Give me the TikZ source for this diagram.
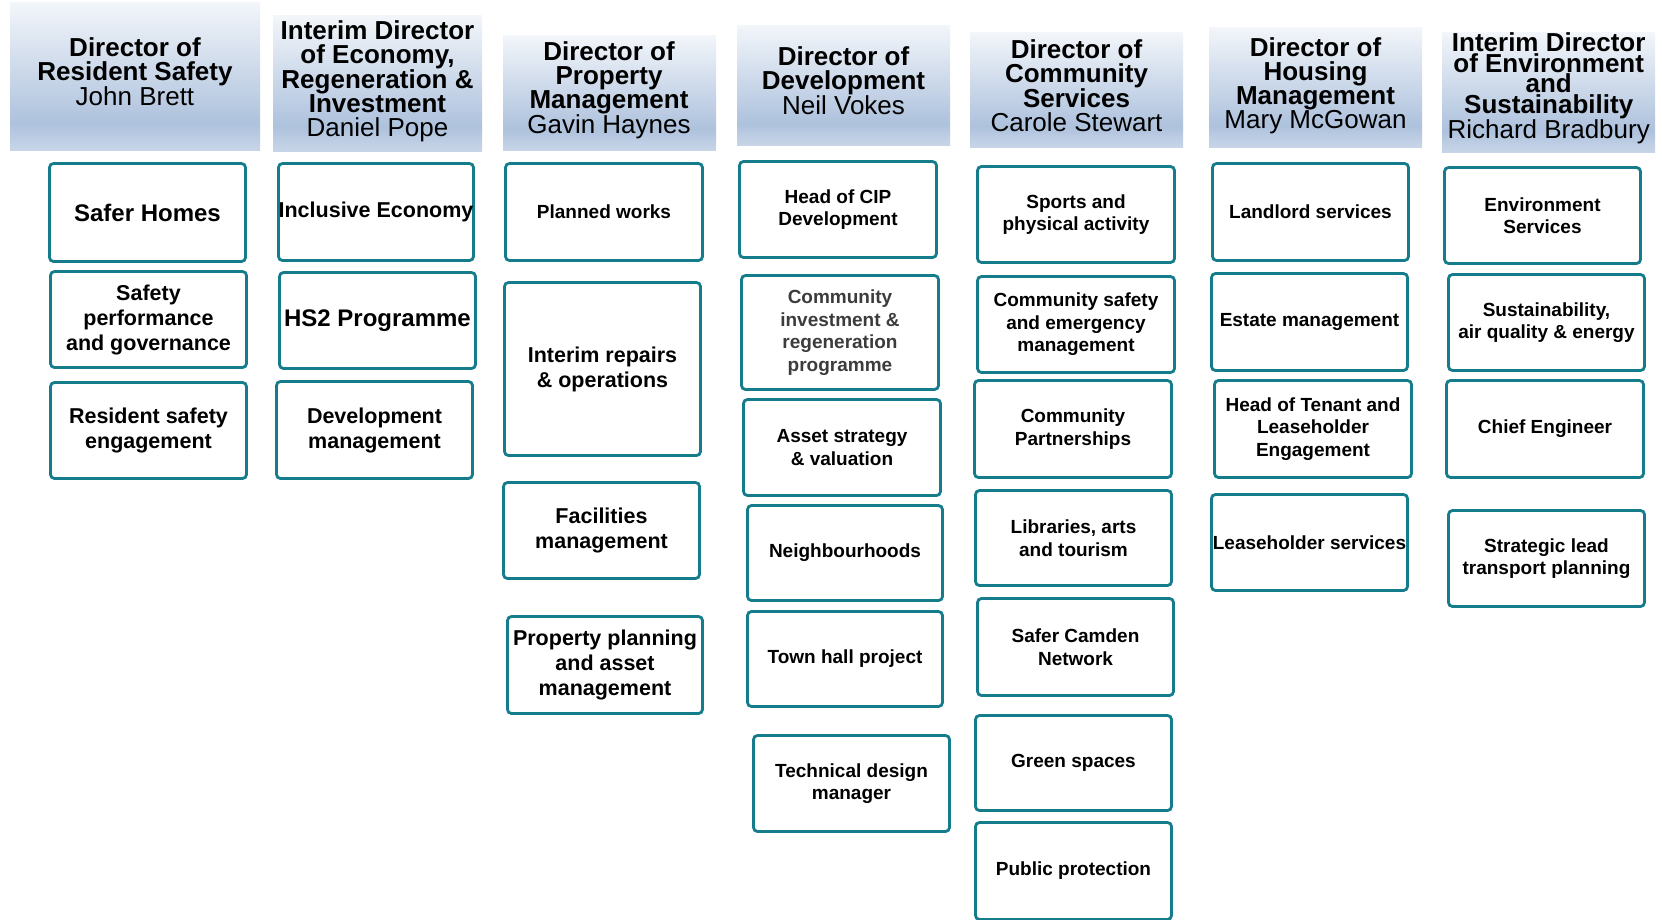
\documentclass[tikz,border=0pt]{standalone}
\usepackage{fontspec}
\setmainfont{Liberation Sans}
\definecolor{boxteal}{RGB}{20,124,138}
\definecolor{htop}{RGB}{243,246,250}
\definecolor{hmid}{RGB}{174,194,221}
\definecolor{hbot}{RGB}{200,213,232}
\definecolor{graytext}{RGB}{60,60,60}
\pgfdeclareverticalshading{hdrshade}{100bp}{color(0bp)=(hbot); color(25bp)=(hbot); color(34bp)=(hmid); color(75bp)=(htop); color(100bp)=(htop)}
\tikzset{
  ubox/.style 2 args={draw=boxteal, line width=2.8pt, rounded corners=4pt, fill=white,
    align=center, inner sep=0pt, minimum width=#1pt, minimum height=#2pt},
  fs/.style={font=\bfseries\fontsize{19}{22.5}\selectfont},
  fm/.style={font=\bfseries\fontsize{21.5}{25}\selectfont},
  fl/.style={font=\bfseries\fontsize{24}{28}\selectfont},
  hdrtext/.style={align=center, inner sep=0pt, font=\fontsize{26}{24}\selectfont},
  hdrbg/.style={shading=hdrshade}
}
\begin{document}
\begin{tikzpicture}[x=1pt,y=-1pt]
\clip (0,0) rectangle (1662,919);
\fill[white] (0,0) rectangle (1662,919);

% header backgrounds
\shade[hdrbg] (10,2) rectangle (260,150);
\shade[hdrbg] (273,15) rectangle (482,151);
\shade[hdrbg] (503,35) rectangle (716,150);
\shade[hdrbg] (737,25) rectangle (950,145);
\shade[hdrbg] (970,32) rectangle (1183,147);
\shade[hdrbg] (1209,27) rectangle (1422,147);
\shade[hdrbg] (1442,32) rectangle (1655,152);

% header texts
\node[hdrtext] (h1) at (135,71.5) {\textbf{Director of}\\\textbf{Resident Safety}\\John Brett};
\node[hdrtext] (h2) at (377.5,81.6) {\textbf{Interim Director}\\\textbf{of Economy,}\\\textbf{Regeneration \&}\\\textbf{Investment}\\Daniel Pope};
\node[hdrtext] (h3) at (609,90.4) {\textbf{Director of}\\\textbf{Property}\\\textbf{Management}\\Gavin Haynes};
\node[hdrtext] (h4) at (843.5,81) {\textbf{Director of}\\\textbf{Development}\\Neil Vokes};
\node[hdrtext] (h5) at (1076.5,86) {\textbf{Director of}\\\textbf{Community}\\\textbf{Services}\\Carole Stewart};
\node[hdrtext] (h6) at (1315.5,85.8) {\textbf{Director of}\\\textbf{Housing}\\\textbf{Management}\\Mary McGowan};
\node[hdrtext, font=\fontsize{26}{20.8}\selectfont] (h7) at (1548.7,88.3) {\textbf{Interim Director}\\\textbf{of Environment}\\\textbf{and}\\\textbf{Sustainability}\\Richard Bradbury};

% column 1
\node[ubox={196}{98}, fl] (a1) at (147.5,212.5) {Safer Homes};
\node[ubox={196}{96}, fm] (a2) at (148.5,319.5) {Safety\\performance\\and governance};
\node[ubox={196}{96}, fm] (a3) at (148.5,430.5) {Resident safety\\engagement};

% column 2
\node[ubox={195}{97}, fm] (b1) at (376,212) {Inclusive Economy};
\node[ubox={196}{96}, fl] (b2) at (377.5,320.5) {HS2 Programme};
\node[ubox={196}{97}, fm] (b3) at (374.5,430) {Development\\management};

% column 3
\node[ubox={197}{97}, fs] (c1) at (604,212) {Planned works};
\node[ubox={196}{173}, fm] (c2) at (602.5,369) {Interim repairs\\\& operations};
\node[ubox={196}{96}, fm] (c3) at (601.5,530.5) {Facilities\\management};
\node[ubox={195}{97}, fm] (c4) at (605,665) {Property planning\\and asset\\management};

% column 4
\node[ubox={197}{96}, fs] (d1) at (838,209.5) {Head of CIP\\Development};
\node[ubox={197}{114}, fs, text=graytext] (d2) at (840,332.5) {Community\\investment \&\\regeneration\\programme};
\node[ubox={197}{96}, fs] (d3) at (842,447.5) {Asset strategy\\\& valuation};
\node[ubox={195}{95}, fs] (d4) at (845,553) {Neighbourhoods};
\node[ubox={195}{95}, fs] (d5) at (845,659) {Town hall project};
\node[ubox={196}{96}, fs] (d6) at (851.5,783.5) {Technical design\\manager};

% column 5
\node[ubox={197}{96}, fs] (e1) at (1076,214.5) {Sports and\\physical activity};
\node[ubox={197}{96}, fs] (e2) at (1076,324.5) {Community safety\\and emergency\\management};
\node[ubox={197}{97}, fs] (e3) at (1073,429) {Community\\Partnerships};
\node[ubox={196}{95}, fs] (e4) at (1073.5,538) {Libraries, arts\\and tourism};
\node[ubox={196}{97}, fs] (e5) at (1075.5,647) {Safer Camden\\Network};
\node[ubox={196}{95}, fs] (e6) at (1073.5,763) {Green spaces};
\node[ubox={196}{97}, fs] (e7) at (1073.5,871) {Public protection};

% column 6
\node[ubox={196}{97}, fs] (f1) at (1310.5,212) {Landlord services};
\node[ubox={196}{97}, fs] (f2) at (1309.5,322) {Estate management};
\node[ubox={197}{97}, fs] (f3) at (1313,429) {Head of Tenant and\\Leaseholder\\Engagement};
\node[ubox={196}{96}, fs] (f4) at (1309.5,542.5) {Leaseholder services};

% column 7
\node[ubox={196}{96}, fs] (g1) at (1542.5,215.5) {Environment\\Services};
\node[ubox={196}{96}, fs] (g2) at (1546.5,322.5) {Sustainability,\\air quality \& energy};
\node[ubox={197}{97}, fs] (g3) at (1545,429) {Chief Engineer};
\node[ubox={196}{96}, fs] (g4) at (1546.5,558.5) {Strategic lead\\transport planning};
\end{tikzpicture}
\end{document}
